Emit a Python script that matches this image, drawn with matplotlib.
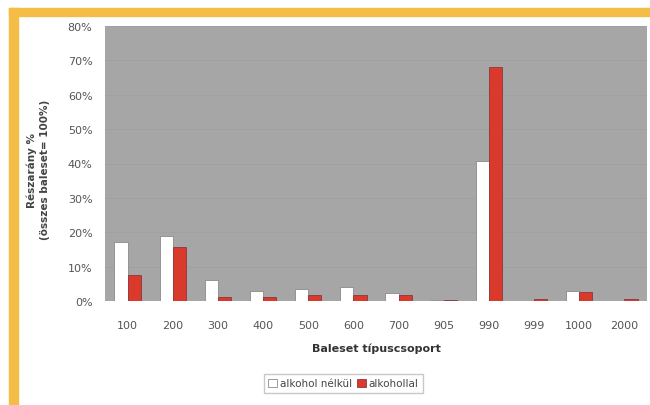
import numpy as np
import matplotlib.pyplot as plt
from matplotlib.patches import Rectangle

categories = ["100", "200", "300", "400", "500", "600", "700", "905", "990", "999", "1000", "2000"]
alkohol_nelkul = [17.2, 18.9, 6.0, 2.9, 3.5, 4.0, 2.3, 0.4, 40.7, 0.0, 3.0, 0.0]
alkohollal = [7.6, 15.7, 1.2, 1.2, 1.7, 1.7, 1.7, 0.4, 68.0, 0.5, 2.6, 0.5]

fig = plt.figure(figsize=(6.5, 4.06), dpi=100)
fig.patch.set_facecolor("white")

# orange corner frame
orange = "#f4bd45"
fig.add_artist(Rectangle((9 / 650, 0), 9 / 650, 1 - 9 / 406, transform=fig.transFigure,
                         color=orange, zorder=0))
fig.add_artist(Rectangle((9 / 650, 1 - 17 / 406), 1, 8 / 406, transform=fig.transFigure,
                         color=orange, zorder=0))

ax = fig.add_axes([105 / 650, 1 - 302 / 406, 542 / 650, 275 / 406])
ax.set_facecolor("#a6a6a6")

x = np.arange(len(categories))
w = 0.29
ax.bar(x - w / 2, alkohol_nelkul, w, color="white", edgecolor="#8a8a8a",
       linewidth=0.6, label="alkohol nélkül", zorder=3)
ax.bar(x + w / 2, alkohollal, w, color="#d93a2b", edgecolor="#8a3840",
       linewidth=0.6, label="alkohollal", zorder=3)

ax.set_xlim(-0.5, len(categories) - 0.5)
ax.set_ylim(0, 80)
ax.set_yticks(np.arange(0, 81, 10))
ax.set_yticklabels([f"{v}%" for v in range(0, 81, 10)])
ax.set_xticks(x)
ax.set_xticklabels(categories)
ax.yaxis.grid(True, color="#9f9f9f", linewidth=0.6, zorder=0)
for s in ax.spines.values():
    s.set_visible(False)
ax.tick_params(length=0, labelsize=8, colors="#555555", pad=9)
ax.tick_params(axis="x", pad=14)

ax.set_xlabel("Baleset típuscsoport", fontsize=8, fontweight="bold",
              color="#333333", labelpad=9)
fig.text(38 / 650, 1 - 170 / 406, "Részarány %\n(összes baleset= 100%)",
         rotation=90, ha="center", va="center", fontsize=7.5,
         fontweight="bold", color="#444444", linespacing=1.4)

leg = ax.legend(loc="upper center", bbox_to_anchor=(0.44, -0.245), ncol=2,
                fontsize=7.5, frameon=True, fancybox=False, edgecolor="#bbbbbb",
                handlelength=0.8, handleheight=0.8, handletextpad=0.3,
                columnspacing=0.5, borderpad=0.45)
for t in leg.get_texts():
    t.set_color("#444444")

plt.savefig("out.png", dpi=100)
